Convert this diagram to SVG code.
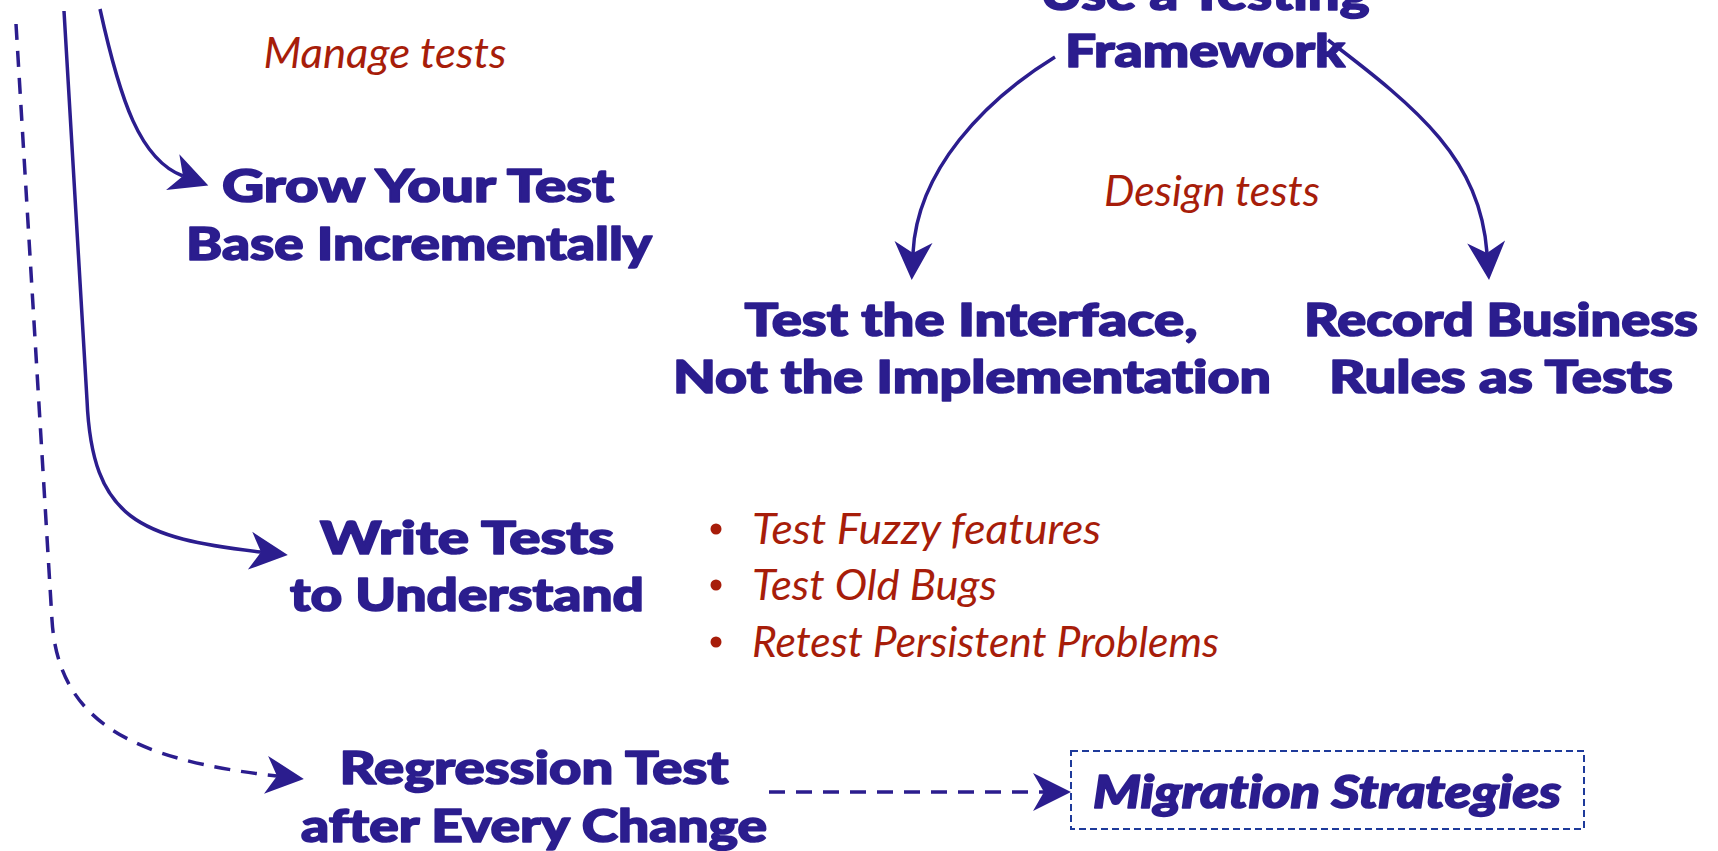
<svg xmlns="http://www.w3.org/2000/svg" width="1718" height="851" viewBox="0 0 1718 851">
  <style>
    text { font-variant-ligatures: none; }
    .node { font-family: "Lato", "Open Sans", "Liberation Sans", sans-serif; font-weight: 900; font-size: 45px; fill: #2b1d8e; stroke: #2b1d8e; stroke-width: 1.6; stroke-linejoin: round; text-anchor: middle; }
    .note { font-family: "Lato", "Open Sans", "Liberation Sans", sans-serif; font-style: italic; font-weight: 400; font-size: 42px; fill: #a71d0a; }
    .mid { text-anchor: middle; }
    .link { fill: none; stroke: #2b1d8e; stroke-width: 3.5; }
    .dash { stroke-dasharray: 16 11; }
    .box { fill: none; stroke: #1e3a9a; stroke-width: 2; stroke-dasharray: 7 4; }
    .strat { font-family: "Lato", "Open Sans", "Liberation Sans", sans-serif; font-style: italic; font-weight: 900; font-size: 46px; fill: #2b1d8e; stroke: #2b1d8e; stroke-width: 1.6; stroke-linejoin: round; text-anchor: middle; }
  </style>
  <defs>
    <marker id="head" markerUnits="userSpaceOnUse" markerWidth="60" markerHeight="60" refX="0" refY="0" viewBox="-20 -25 60 50" orient="auto" overflow="visible">
      <path d="M27,0 L-11,-19 L0,0 L-11,19 Z" fill="#2b1d8e"/>
    </marker>
  </defs>

  <rect width="1718" height="851" fill="#ffffff"/>

  <!-- connectors -->
  <g id="connectors">
    <path class="link" d="M100,9 C120,100 140,160 183,176" marker-end="url(#head)"/>
    <path class="link" d="M64,11 L87,400 C92,520 140,538 261,552" marker-end="url(#head)"/>
    <path class="link dash" d="M16,24 L52,620 C58,720 130,760 277,776" marker-end="url(#head)"/>
    <path class="link" d="M1055,57 C985,100 917,170 913,253" marker-end="url(#head)"/>
    <path class="link" d="M1328,40 C1420,110 1480,160 1487,253" marker-end="url(#head)"/>
    <path class="link dash" d="M769,792 L1044,792" marker-end="url(#head)"/>
  </g>

  <!-- section labels -->
  <g id="label-manage">
    <text class="note mid" x="385" y="68" textLength="243" lengthAdjust="spacingAndGlyphs">Manage tests</text>
  </g>
  <g id="label-design">
    <text class="note mid" x="1212" y="206" textLength="216" lengthAdjust="spacingAndGlyphs">Design tests</text>
  </g>

  <!-- nodes -->
  <g id="node-framework">
    <text class="node" x="1205" y="10" textLength="329" lengthAdjust="spacingAndGlyphs">Use a Testing</text>
    <text class="node" x="1205" y="67" textLength="280" lengthAdjust="spacingAndGlyphs">Framework</text>
  </g>
  <g id="node-grow">
    <text class="node" x="418" y="202" textLength="392" lengthAdjust="spacingAndGlyphs">Grow Your Test</text>
    <text class="node" x="419" y="260" textLength="466" lengthAdjust="spacingAndGlyphs">Base Incrementally</text>
  </g>
  <g id="node-interface">
    <text class="node" x="971" y="336" textLength="453" lengthAdjust="spacingAndGlyphs">Test the Interface,</text>
    <text class="node" x="972" y="393" textLength="598" lengthAdjust="spacingAndGlyphs">Not the Implementation</text>
  </g>
  <g id="node-business">
    <text class="node" x="1501" y="336" textLength="394" lengthAdjust="spacingAndGlyphs">Record Business</text>
    <text class="node" x="1501" y="393" textLength="344" lengthAdjust="spacingAndGlyphs">Rules as Tests</text>
  </g>
  <g id="node-write">
    <text class="node" x="467" y="554" textLength="294" lengthAdjust="spacingAndGlyphs">Write Tests</text>
    <text class="node" x="467" y="611" textLength="354" lengthAdjust="spacingAndGlyphs">to Understand</text>
  </g>
  <g id="bullets">
    <circle cx="716" cy="529" r="5.5" fill="#a71d0a"/>
    <text class="note" x="752" y="544" textLength="349" lengthAdjust="spacingAndGlyphs">Test Fuzzy features</text>
    <circle cx="716" cy="585" r="5.5" fill="#a71d0a"/>
    <text class="note" x="752" y="600" textLength="245" lengthAdjust="spacingAndGlyphs">Test Old Bugs</text>
    <circle cx="716" cy="642" r="5.5" fill="#a71d0a"/>
    <text class="note" x="752" y="657" textLength="467" lengthAdjust="spacingAndGlyphs">Retest Persistent Problems</text>
  </g>
  <g id="node-regression">
    <text class="node" x="534" y="784" textLength="389" lengthAdjust="spacingAndGlyphs">Regression Test</text>
    <text class="node" x="534" y="842" textLength="466" lengthAdjust="spacingAndGlyphs">after Every Change</text>
  </g>
  <g id="node-migration">
    <rect class="box" x="1071" y="751" width="513" height="78"/>
    <text class="strat" x="1327" y="808" textLength="468" lengthAdjust="spacingAndGlyphs">Migration Strategies</text>
  </g>
</svg>
